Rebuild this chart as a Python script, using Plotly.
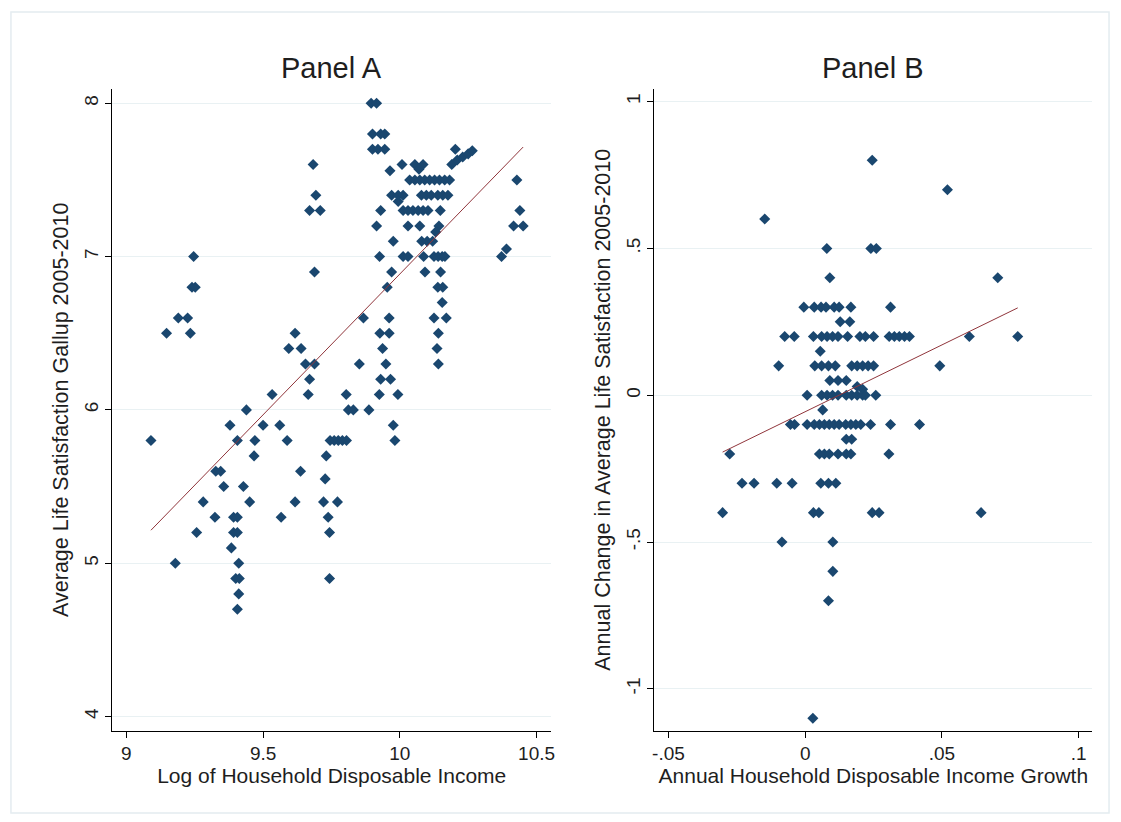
import numpy as np
import plotly.graph_objects as go

# ---------------- Panel A: log income vs. average life satisfaction ----------------
log_income = [
    9.090, 9.147, 9.190, 9.224, 9.234, 9.240, 9.252, 9.246, 9.179, 9.257,
    9.281, 9.324, 9.327, 9.345, 9.356, 9.379, 9.384, 9.392, 9.406, 9.392,
    9.406, 9.406, 9.411, 9.400, 9.413, 9.411, 9.406, 9.428, 9.439, 9.451,
    9.467, 9.470, 9.500, 9.533, 9.561, 9.566, 9.588, 9.594, 9.617, 9.617,
    9.637, 9.639, 9.655, 9.688, 9.665, 9.670, 9.683, 9.693, 9.670, 9.709,
    9.688, 9.721, 9.727, 9.731, 9.738, 9.743, 9.743, 9.772, 9.745, 9.760,
    9.775, 9.790, 9.805, 9.804, 9.812, 9.830, 9.852, 9.867, 9.887, 9.925,
    9.930, 9.966, 9.937, 9.949, 9.927, 9.961, 9.961, 9.976, 9.982, 9.993,
    9.954, 9.970, 9.926, 9.915, 9.930, 9.976, 9.964, 9.895, 9.915, 9.900,
    9.930, 9.945, 9.900, 9.920, 9.945, 9.970, 9.994, 10.012, 9.994, 10.008,
    10.055, 10.085, 10.070, 10.036, 10.055, 10.073, 10.091, 10.109, 10.127, 10.145,
    10.164, 10.182, 10.079, 10.097, 10.115, 10.139, 10.157, 10.176, 10.012, 10.030,
    10.048, 10.067, 10.085, 10.103, 10.148, 10.030, 10.073, 10.143, 10.131, 10.080,
    10.100, 10.120, 10.012, 10.030, 10.087, 10.125, 10.140, 10.155, 10.165, 10.092,
    10.149, 10.139, 10.157, 10.155, 10.125, 10.170, 10.141, 10.136, 10.141, 10.203,
    10.190, 10.210, 10.230, 10.250, 10.265, 10.372, 10.390, 10.416, 10.451, 10.439,
    10.428,
]
life_sat = [
    5.80, 6.50, 6.60, 6.60, 6.50, 6.80, 6.80, 7.00, 5.00, 5.20,
    5.40, 5.30, 5.60, 5.60, 5.50, 5.90, 5.10, 5.30, 5.30, 5.20,
    5.20, 5.80, 5.00, 4.90, 4.90, 4.80, 4.70, 5.50, 6.00, 5.40,
    5.70, 5.80, 5.90, 6.10, 5.90, 5.30, 5.80, 6.40, 6.50, 5.40,
    5.60, 6.40, 6.30, 6.30, 6.10, 6.20, 7.60, 7.40, 7.30, 7.30,
    6.90, 5.40, 5.55, 5.70, 5.30, 5.20, 4.90, 5.40, 5.80, 5.80,
    5.80, 5.80, 5.80, 6.10, 6.00, 6.00, 6.30, 6.60, 6.00, 6.10,
    6.20, 6.20, 6.40, 6.30, 6.50, 6.50, 6.60, 5.90, 5.80, 6.10,
    6.80, 6.90, 7.00, 7.20, 7.30, 7.10, 7.56, 8.00, 8.00, 7.80,
    7.80, 7.80, 7.70, 7.70, 7.70, 7.40, 7.40, 7.40, 7.36, 7.60,
    7.60, 7.60, 7.57, 7.50, 7.50, 7.50, 7.50, 7.50, 7.50, 7.50,
    7.50, 7.50, 7.40, 7.40, 7.40, 7.40, 7.40, 7.40, 7.30, 7.30,
    7.30, 7.30, 7.30, 7.30, 7.30, 7.20, 7.20, 7.20, 7.16, 7.10,
    7.10, 7.10, 7.00, 7.00, 7.00, 7.00, 7.00, 7.00, 7.00, 6.90,
    6.90, 6.80, 6.80, 6.70, 6.60, 6.60, 6.50, 6.40, 6.30, 7.70,
    7.60, 7.63, 7.65, 7.67, 7.69, 7.00, 7.05, 7.20, 7.20, 7.30,
    7.50,
]

# ---------------- Panel B: income growth vs. change in life satisfaction ----------------
income_growth = [
    0.0245, 0.0520, -0.0148, 0.0079, 0.0240, 0.0260, 0.0090, 0.0704,
    -0.0005, 0.0033, 0.0058, 0.0076, 0.0106, 0.0124, 0.0167, 0.0312,
    0.0128, 0.0163,
    -0.0075, -0.0040, 0.0030, 0.0060, 0.0080, 0.0100, 0.0120, 0.0155, 0.0200,
    0.0220, 0.0250, 0.0307, 0.0326, 0.0344, 0.0363, 0.0381, 0.0600, 0.0777,
    0.0055,
    -0.0097, 0.0035, 0.0060, 0.0085, 0.0110, 0.0170, 0.0190, 0.0210, 0.0230,
    0.0250, 0.0492,
    0.0090, 0.0120, 0.0150, 0.0190, 0.0210,
    0.0007, 0.0060, 0.0080, 0.0100, 0.0120, 0.0150, 0.0170, 0.0190, 0.0210,
    0.0220, 0.0258,
    0.0064,
    -0.0054, -0.0039, 0.0007, 0.0033, 0.0052, 0.0070, 0.0088, 0.0106, 0.0124,
    0.0148, 0.0167, 0.0185, 0.0203, 0.0239, 0.0312, 0.0418,
    0.0150, 0.0170,
    -0.0276, 0.0052, 0.0070, 0.0088, 0.0120, 0.0150, 0.0167, 0.0306,
    -0.0231, -0.0187, -0.0104, -0.0048, 0.0057, 0.0085, 0.0112,
    -0.0302, 0.0030, 0.0050, 0.0245, 0.0270, 0.0643,
    -0.0085, 0.0101, 0.0101, 0.0085, 0.0028,
]
life_sat_change = [
    0.80, 0.70, 0.60, 0.50, 0.50, 0.50, 0.40, 0.40,
    0.30, 0.30, 0.30, 0.30, 0.30, 0.30, 0.30, 0.30,
    0.25, 0.25,
    0.20, 0.20, 0.20, 0.20, 0.20, 0.20, 0.20, 0.20, 0.20,
    0.20, 0.20, 0.20, 0.20, 0.20, 0.20, 0.20, 0.20, 0.20,
    0.15,
    0.10, 0.10, 0.10, 0.10, 0.10, 0.10, 0.10, 0.10, 0.10,
    0.10, 0.10,
    0.05, 0.05, 0.05, 0.03, 0.02,
    0.00, 0.00, 0.00, 0.00, 0.00, 0.00, 0.00, 0.00, 0.00,
    0.00, 0.00,
    -0.05,
    -0.10, -0.10, -0.10, -0.10, -0.10, -0.10, -0.10, -0.10, -0.10,
    -0.10, -0.10, -0.10, -0.10, -0.10, -0.10, -0.10,
    -0.15, -0.15,
    -0.20, -0.20, -0.20, -0.20, -0.20, -0.20, -0.20, -0.20,
    -0.30, -0.30, -0.30, -0.30, -0.30, -0.30, -0.30,
    -0.40, -0.40, -0.40, -0.40, -0.40, -0.40,
    -0.50, -0.50, -0.60, -0.70, -1.10,
]

# Axis tick values and their labels
a_xticks = [9, 9.5, 10, 10.5]
a_xlabels = ["9", "9.5", "10", "10.5"]
a_yticks = [4, 5, 6, 7, 8]
a_ylabels = ["4", "5", "6", "7", "8"]
b_xticks = [-0.05, 0, 0.05, 0.1]
b_xlabels = ["-.05", "0", ".05", ".1"]
b_yticks = [-1, -0.5, 0, 0.5, 1]
b_ylabels = ["-1", "-.5", "0", ".5", "1"]

MARKER = "#1a476f"
FIT = "#90353b"
GRID = "#e9f1f3"
TEXT = "#1e1e1e"
FONT = "Arial, Liberation Sans, sans-serif"


def linear_fit(x, y):
    """OLS line evaluated across the observed x range."""
    x = np.asarray(x, float)
    y = np.asarray(y, float)
    slope, intercept = np.polyfit(x, y, 1)
    xs = np.array([x.min(), x.max()])
    return xs, intercept + slope * xs


W, H = 1121, 822
fig = go.Figure()

for x, y, xa, ya in [(log_income, life_sat, "x", "y"),
                     (income_growth, life_sat_change, "x2", "y2")]:
    fig.add_trace(go.Scatter(
        x=x, y=y, mode="markers", xaxis=xa, yaxis=ya,
        marker=dict(symbol="diamond", size=8.5, color=MARKER, line=dict(width=0)),
        showlegend=False, hoverinfo="x+y",
    ))
    fx, fy = linear_fit(x, y)
    fig.add_trace(go.Scatter(
        x=fx, y=fy, mode="lines", xaxis=xa, yaxis=ya,
        line=dict(color=FIT, width=1), showlegend=False, hoverinfo="skip",
    ))

y_dom = [1 - 730.5 / H, 1 - 89 / H]
XTITLE_FONT = dict(family=FONT, size=21, color=TEXT)
YTITLE_FONT = dict(family=FONT, size=21.5, color=TEXT)
common_axis = dict(
    showline=True, linecolor="black", linewidth=1.3,
    ticks="outside", ticklen=6, tickwidth=1.3, tickcolor="black",
    tickfont=dict(family=FONT, size=19, color=TEXT),
    zeroline=False,
)

fig.update_layout(
    width=W, height=H,
    margin=dict(l=0, r=0, t=0, b=0),
    paper_bgcolor="white", plot_bgcolor="white",
    font=dict(family=FONT, color=TEXT),
    xaxis=dict(
        domain=[111 / W, 552 / W], range=[8.949, 10.553], anchor="y",
        tickvals=a_xticks, ticktext=a_xlabels, showgrid=False,
        title=dict(text="Log of Household Disposable Income",
                   font=XTITLE_FONT, standoff=2),
        **common_axis,
    ),
    yaxis=dict(
        domain=y_dom, range=[3.909, 8.093], anchor="x",
        tickvals=a_yticks, ticktext=a_ylabels, tickangle=-90,
        showgrid=True, gridcolor=GRID, gridwidth=1,
        title=dict(text="Average Life Satisfaction Gallup 2005-2010",
                   font=YTITLE_FONT, standoff=6),
        **common_axis,
    ),
    xaxis2=dict(
        domain=[656 / W, 1096 / W], range=[-0.0551, 0.1049], anchor="y2",
        tickvals=b_xticks, ticktext=b_xlabels, showgrid=False,
        title=dict(text="Annual Household Disposable Income Growth",
                   font=XTITLE_FONT, standoff=2),
        **common_axis,
    ),
    yaxis2=dict(
        domain=y_dom, range=[-1.142, 1.043], anchor="x2",
        tickvals=b_yticks, ticktext=b_ylabels, tickangle=-90,
        showgrid=True, gridcolor=GRID, gridwidth=1,
        title=dict(text="Annual Change in Average Life Satisfaction 2005-2010",
                   font=YTITLE_FONT, standoff=6),
        **common_axis,
    ),
    annotations=[
        dict(text="Panel A", x=331 / W, y=1 - 68 / H, xref="paper", yref="paper",
             showarrow=False, font=dict(family=FONT, size=29, color=TEXT),
             xanchor="center", yanchor="middle"),
        dict(text="Panel B", x=876 / W, y=1 - 68 / H, xref="paper", yref="paper",
             showarrow=False, font=dict(family=FONT, size=29, color=TEXT),
             xanchor="center", yanchor="middle"),
    ],
    shapes=[
        dict(type="rect", xref="paper", yref="paper",
             x0=9 / W, x1=1113 / W, y0=1 - 813 / H, y1=1 - 12 / H,
             line=dict(color="#e4ecf0", width=1.5), fillcolor="rgba(0,0,0,0)",
             layer="below"),
    ],
)

fig.write_html("out.html")
